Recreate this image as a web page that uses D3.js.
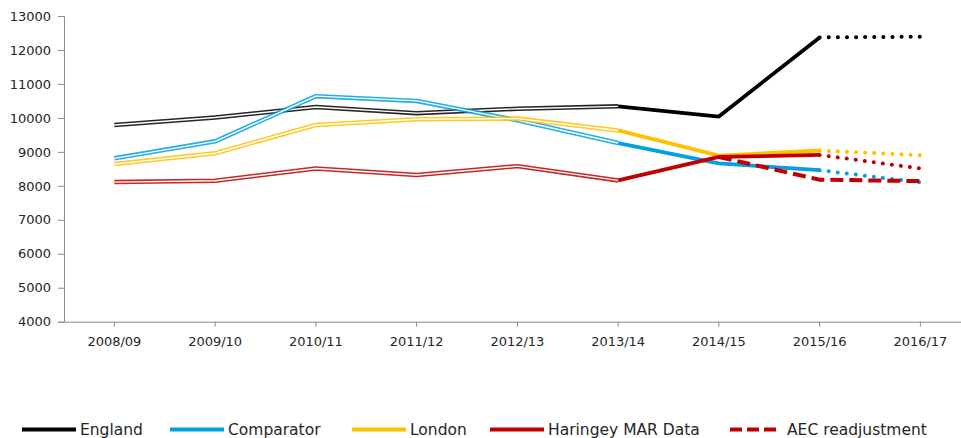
<!DOCTYPE html>
<html lang="en">
<head>
<meta charset="utf-8">
<script src="https://d3js.org/d3.v7.min.js"></script>
<style>
  body { margin: 0; background: #fff; }
  text { font-family: "DejaVu Sans", sans-serif; fill: #262626; }
</style>
</head>
<body>
<div id="chart"></div>
<script>
const years = ["2008/09", "2009/10", "2010/11", "2011/12", "2012/13", "2013/14", "2014/15", "2015/16", "2016/17"]
const england = [9790, 10010, 10320, 10140, 10270, 10340, 10040, 12370, 12390]
const comparator = [8810, 9310, 10640, 10500, 9930, 9260, 8660, 8460, 8100]
const london = [8640, 8960, 9790, 9960, 9980, 9630, 8890, 9040, 8900]
const haringey = [8110, 8150, 8510, 8320, 8580, 8160, 8850, 8910, 8510]
const aec = [null, null, null, null, null, null, 8850, 8180, 8140]
const yTicks = [4000, 5000, 6000, 7000, 8000, 9000, 10000, 11000, 12000, 13000]

const width = 961
const height = 438

const series = [
    {name: "England", values: england, colour: "#000000"},
    {name: "Comparator", values: comparator, colour: "#00a0e3"},
    {name: "London", values: london, colour: "#ffc000"},
    {name: "Haringey MAR Data", values: haringey, colour: "#c00000"}
]

// where the line style changes: double up to 2013/14, solid to 2015/16, dotted after
const doubleEnd = 5
const solidEnd = 7

const svg = d3.select("#chart").append("svg")
    .attr("width", width)
    .attr("height", height)

const x = d3.scaleBand()
    .domain(years)
    .range([64, 64 + 9 * 100.75])

const y = d3.scaleLinear()
    .domain([4000, 13000])
    .range([321.7, 16])

const cx = (i) => x(years[i]) + x.bandwidth() / 2

// y axis
const yAxis = svg.append("g")
    .attr("transform", "translate(64,0)")
    .call(d3.axisLeft(y).tickValues(yTicks).tickSize(6).tickPadding(7).tickFormat(d3.format("d")))
yAxis.select(".domain").attr("stroke", "#8c8c8c")
yAxis.selectAll(".tick line").attr("stroke", "#8c8c8c")
yAxis.selectAll("text").style("font-size", "13px").attr("fill", "#262626")

// x axis
const xAxis = svg.append("g")
    .attr("transform", "translate(0," + y(4000) + ")")
    .call(d3.axisBottom(x).tickSize(5).tickSizeOuter(0).tickPadding(10))
xAxis.select(".domain").attr("stroke", "#8c8c8c")
xAxis.selectAll(".tick line").attr("stroke", "#8c8c8c")
xAxis.selectAll("text").style("font-size", "13px").attr("fill", "#262626")

const line = d3.line()
    .defined(d => d.v != null)
    .x(d => cx(d.i))
    .y(d => y(d.v))

const pts = (values, a, b) => values.map((v, i) => ({v: v, i: i})).slice(a, b + 1)

const g = svg.append("g")

series.forEach(s => {
    // double (compound) line
    g.append("path")
        .attr("d", line(pts(s.values, 0, doubleEnd)))
        .attr("fill", "none")
        .attr("stroke", s.colour)
        .attr("stroke-opacity", 0.85)
        .attr("stroke-width", 4.5)
        .attr("stroke-linejoin", "round")
    g.append("path")
        .attr("d", line(pts(s.values, 0, doubleEnd)))
        .attr("fill", "none")
        .attr("stroke", "#ffffff")
        .attr("stroke-width", 1.4)
        .attr("stroke-linejoin", "round")
    // solid
    g.append("path")
        .attr("d", line(pts(s.values, doubleEnd, solidEnd)))
        .attr("fill", "none")
        .attr("stroke", s.colour)
        .attr("stroke-width", 3.8)
        .attr("stroke-linejoin", "round")
    // dotted forecast
    g.append("path")
        .attr("d", line(pts(s.values, solidEnd, years.length - 1)))
        .attr("fill", "none")
        .attr("stroke", s.colour)
        .attr("stroke-width", 4)
        .attr("stroke-linecap", "round")
        .attr("stroke-dasharray", "0.1 9")
})

// AEC readjustment dashed
g.append("path")
    .attr("d", line(pts(aec, 6, 8)))
    .attr("fill", "none")
    .attr("stroke", "#c00000")
    .attr("stroke-width", 4)
    .attr("stroke-dasharray", "13 6")

// legend
const legendItems = [
    {name: "England", colour: "#000000", dash: null, x: 22},
    {name: "Comparator", colour: "#00a0e3", dash: null, x: 170},
    {name: "London", colour: "#ffc000", dash: null, x: 352},
    {name: "Haringey MAR Data", colour: "#c00000", dash: null, x: 490},
    {name: "AEC readjustment", colour: "#c00000", dash: "12 5", x: 730}
]

const legend = svg.append("g").attr("transform", "translate(0,429.5)")
legend.selectAll("line")
    .data(legendItems)
    .enter()
    .append("line")
    .attr("x1", d => d.x)
    .attr("x2", d => d.x + (d.dash ? 48 : 54))
    .attr("y1", 0)
    .attr("y2", 0)
    .attr("stroke", d => d.colour)
    .attr("stroke-width", 4)
    .attr("stroke-dasharray", d => d.dash)
legend.selectAll("text")
    .data(legendItems)
    .enter()
    .append("text")
    .attr("x", d => d.x + (d.dash ? 57 : 58))
    .attr("y", 0)
    .attr("dy", "0.35em")
    .style("font-size", "15.5px")
    .text(d => d.name)
</script>
</body>
</html>
